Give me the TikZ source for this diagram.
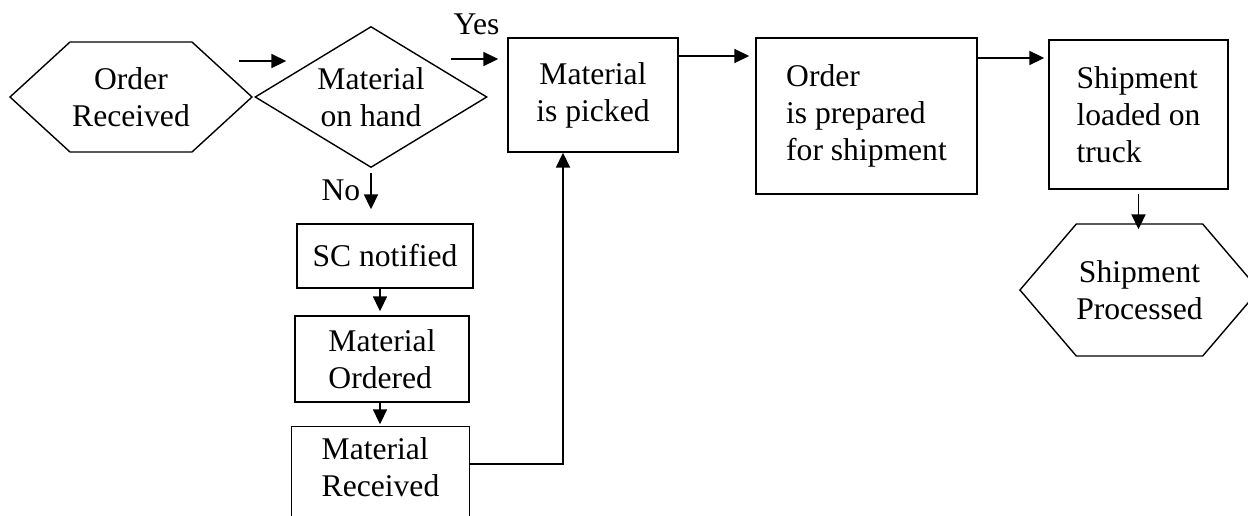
\documentclass[tikz,border=0pt]{standalone}
\usepackage{fontspec}
\setmainfont{Liberation Serif}
\usetikzlibrary{arrows.meta}
\usetikzlibrary{shapes.geometric}
\usetikzlibrary{shapes.symbols}
\tikzset{%
	>={Triangle[width=14pt,length=15pt]},
	% Styles for the shapes of the chart:
	base/.style = {draw=black, line width=1.4pt, inner sep=0pt,
		font=\fontsize{31.6}{37}\selectfont},
	process/.style = {base, rectangle, align=left},
	terminal/.style = {base, signal, signal to=west and east, align=center},
	decision/.style = {base, diamond, aspect=1.65, align=center},
	flow/.style = {->, line width=1.8pt},
}

\begin{document}
\begin{tikzpicture}[x=1pt, y=-1pt]
	\useasboundingbox (0,0) rectangle (1248,515);
	\clip (0,0) rectangle (1248,515);
	% Shapes (placed at their centres)
	\node (orderrec)   [terminal, minimum width=242, minimum height=110, signal pointer angle=85] at (131,97) {Order\\Received};
	\node (onhand)     [decision, minimum width=232, minimum height=141] at (371,97) {Material\\on hand};
	\node (picked)     [process, align=center, minimum width=170, minimum height=114] at (593,95) {Material\\is picked};
	\node (prepared)   [process, minimum width=221, minimum height=156] at (866.5,116) {Order\\is prepared\\for shipment};
	\node (loaded)     [process, minimum width=179, minimum height=149] at (1138.5,114.5) {Shipment\\loaded on\\truck};
	\node (shipproc)   [terminal, minimum width=227, minimum height=132, signal pointer angle=99] at (1139.5,290) {Shipment\\Processed};
	\node (scnotified) [process, minimum width=176, minimum height=64] at (385,256) {SC notified};
	\node (matord)     [process, minimum width=174, minimum height=86] at (382,359) {Material\\Ordered};
	\node (matrec)     [process, draw=none, minimum width=177, minimum height=80] at (380.5,467) {Material\\Received};
	\draw[line width=1.4pt] ([yshift=-60pt]matrec.south west) -- (matrec.north west)
		-- (matrec.north east) -- ([yshift=-60pt]matrec.south east);
	% Labels of the decision
	\node (yes) [anchor=base west, font=\fontsize{31.6}{37}\selectfont] at (450,34) {Yes};
	\node (no)  [anchor=base west, font=\fontsize{31.6}{37}\selectfont] at (318,200) {No};
	% Arrows
	\draw[flow] ([xshift=-14pt,yshift=36pt]orderrec.east) -- ([xshift=32pt,yshift=36pt]onhand.west);
	\draw[flow] ([xshift=-37pt,yshift=38pt]onhand.east) -- ([xshift=-9pt,yshift=36pt]picked.west);
	\draw[flow] ([yshift=39pt]picked.east) -- ([xshift=-6pt,yshift=60pt]prepared.west);
	\draw[flow] ([yshift=58pt]prepared.east) -- ([xshift=-4pt,yshift=56.5pt]loaded.west);
	\draw[flow] ([yshift=-4pt]loaded.south) -- ([yshift=-6pt]loaded.south |- shipproc.north);
	\draw[flow] ([yshift=-5pt]onhand.south) -- ([yshift=14pt]onhand.south |- scnotified.north);
	\draw[flow] ([xshift=-5pt]scnotified.south) -- ([xshift=-5pt,yshift=4pt]scnotified.south |- matord.north);
	\draw[flow] ([xshift=-2pt]matord.south) -- ([xshift=-2pt,yshift=2pt]matord.south |- matrec.north);
	\draw[flow] ([yshift=3pt]matrec.east) -| ([xshift=-30pt]picked.south);
\end{tikzpicture}
\end{document}
